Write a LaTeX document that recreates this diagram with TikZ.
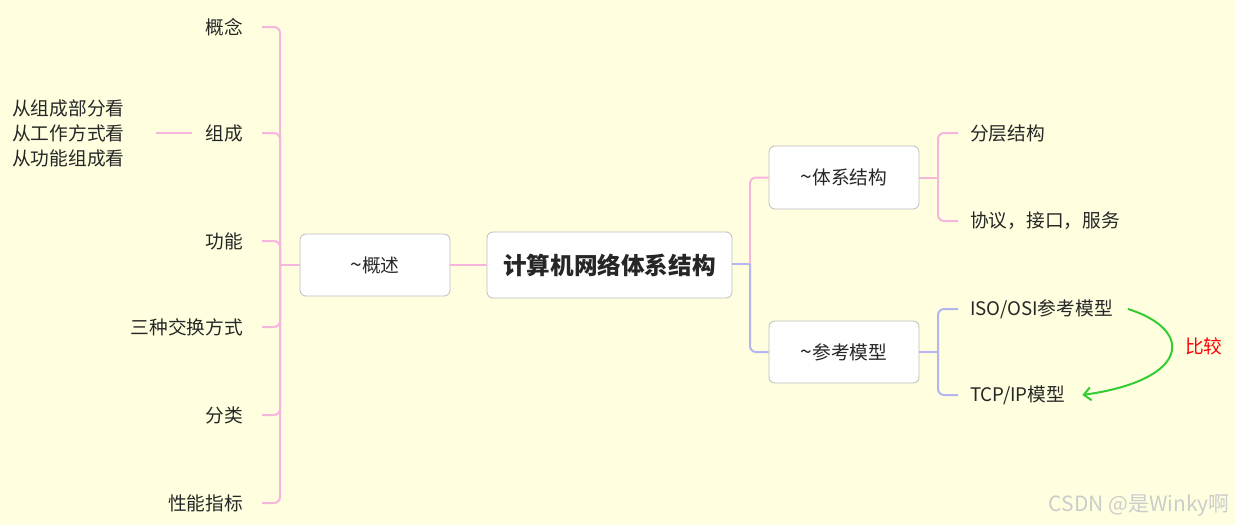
\documentclass[tikz,border=0pt]{standalone}
\usepackage{fontspec}
\setmainfont{Noto Sans CJK SC}
\usetikzlibrary{arrows.meta}
\definecolor{bgc}{HTML}{FFFFE0}
\definecolor{pinkl}{HTML}{F5B5DD}
\definecolor{lavl}{HTML}{B4B4F0}
\definecolor{boxb}{HTML}{BDBDBD}
\definecolor{greenl}{HTML}{33CC33}
\newcommand{\tld}{{\fontsize{21pt}{22pt}\selectfont\textasciitilde}}
\begin{document}
\begin{tikzpicture}[x=1pt,y=-1pt,
  txt/.style={font=\fontsize{18.7pt}{25pt}\selectfont, text=black!85, inner sep=3pt},
  topicbox/.style={draw=boxb, line width=0.8pt, fill=white, rounded corners=6pt,
     font=\fontsize{18.7pt}{22pt}\selectfont, text=black!85},
  pinkline/.style={draw=pinkl, line width=2pt, rounded corners=6pt},
  lavline/.style={draw=lavl, line width=2pt, rounded corners=6pt}]
\fill[bgc] (0,0) rectangle (1235,525);
\useasboundingbox (0,0) rectangle (1235,525);

% boxes
\node[topicbox, minimum width=150pt, minimum height=62pt] (gs) at (375,265) {\tld 概述};
\node[topicbox, minimum width=245pt, minimum height=66pt, font=\fontsize{23.6pt}{26pt}\bfseries] (main) at (609.5,265) {计算机网络体系结构};
\node[topicbox, minimum width=150pt, minimum height=63pt] (tx) at (844,177.5) {\tld 体系结构};
\node[topicbox, minimum width=150pt, minimum height=62pt] (ck) at (844,352) {\tld 参考模型};

% left items
\node[txt, anchor=east] (a1) at (246,27) {概念};
\node[txt, anchor=east] (a2) at (246,133) {组成};
\node[txt, anchor=east] (a3) at (246,241) {功能};
\node[txt, anchor=east] (a4) at (246,327) {三种交换方式};
\node[txt, anchor=east] (a5) at (246,415) {分类};
\node[txt, anchor=east] (a6) at (246,503) {性能指标};
\node[txt, anchor=west, align=left] (zc) at (9,133) {从组成部分看\\从工作方式看\\从功能组成看};

% right items
\node[txt, anchor=west] (b1) at (967,133) {分层结构};
\node[txt, anchor=west] (b2) at (967,221) {协议，接口，服务};
\node[txt, anchor=west] (c1) at (967,309) {ISO/OSI参考模型};
\node[txt, anchor=west] (c2) at (967,395) {TCP/IP模型};

\coordinate (jL) at (280,265);
\coordinate (jM) at (750,264);
\coordinate (jT) at (938,177.5);
\coordinate (jC) at (938,352);

% left spine
\draw[pinkline] (gs.west) -- (jL);
\foreach \n in {a1,a2,a3,a4,a5,a6}
  \draw[pinkline] (jL) |- ([xshift=16pt]\n.east);
\draw[pinkline] ([xshift=-10pt]a2.west) -- ([xshift=28pt]zc.east |- a2.west);

% main connections
\draw[pinkline] (gs.east) -- (main.west);
\draw[lavline] (main.east |- jM) -- (jM);
\draw[pinkline] (jM) |- (tx.west);
\draw[lavline] (jM) |- (ck.west);

% right branches
\draw[pinkline] (tx.east) -- (jT);
\draw[pinkline] (jT) |- ([xshift=-9pt]b1.west);
\draw[pinkline] (jT) |- ([xshift=-9pt]b2.west);
\draw[lavline] (ck.east) -- (jC);
\draw[lavline] (jC) |- ([xshift=-9pt]c1.west);
\draw[lavline] (jC) |- ([xshift=-9pt]c2.west);

% comparison arrow
\draw[greenl, line width=2pt, -{Straight Barb[length=7pt,width=13pt]}]
  ([xshift=12pt]c1.east) .. controls (1195,330) and (1190,380) .. ([xshift=14pt]c2.east);
\node[txt, text=red, anchor=west] (bj) at (1182,346) {比较};

% watermark
\node[font=\fontsize{21pt}{24pt}\selectfont, text=black!20, anchor=east, inner sep=0pt] (wm) at (1230,505) {CSDN @是Winky啊};
\end{tikzpicture}
\end{document}
